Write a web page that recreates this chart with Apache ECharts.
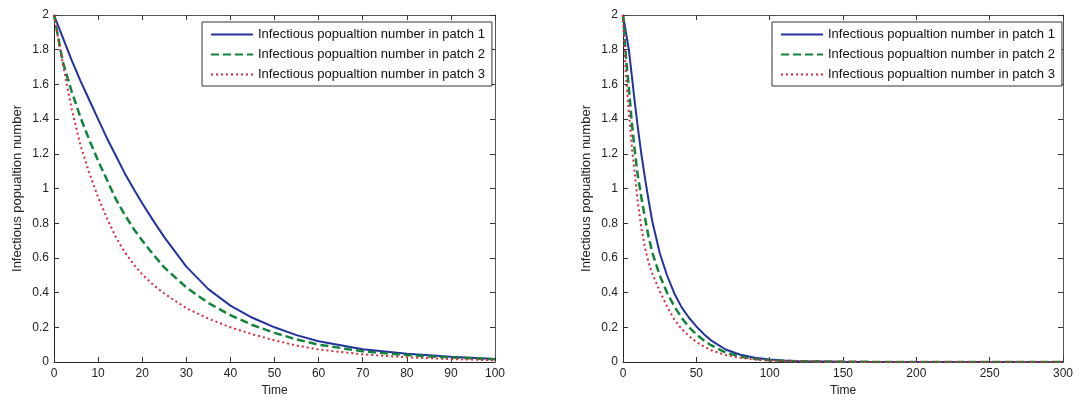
<!DOCTYPE html>
<html>
<head>
<meta charset="utf-8">
<script src="https://cdn.jsdelivr.net/npm/echarts@6.0.0/dist/echarts.min.js"></script>
<style>
  html, body { margin: 0; padding: 0; background: #fff; }
  #main { width: 1081px; height: 402px; }
</style>
</head>
<body>
<div id="main"></div>
<script>
/* two panels: infectious population per patch over time */

var seriesNames = [
    'Infectious popualtion number in patch 1',
    'Infectious popualtion number in patch 2',
    'Infectious popualtion number in patch 3'
];

// left panel, time 0..100
var timeLeft = [0, 2, 4, 6, 8, 10, 12, 14, 16, 18, 20, 22.5, 25, 30, 35, 40, 45, 50, 55, 60, 70, 80, 90, 100];
var patch1Left = [2.0, 1.87, 1.74, 1.62, 1.51, 1.40, 1.29, 1.19, 1.09, 1.00, 0.915, 0.815, 0.72, 0.55, 0.42, 0.325, 0.255, 0.2, 0.155, 0.12, 0.074, 0.047, 0.03, 0.018];
var patch2Left = [2.0, 1.73, 1.56, 1.41, 1.28, 1.16, 1.05, 0.94, 0.85, 0.77, 0.70, 0.62, 0.545, 0.43, 0.34, 0.27, 0.213, 0.168, 0.13, 0.10, 0.062, 0.04, 0.026, 0.016];
var patch3Left = [2.0, 1.72, 1.46, 1.25, 1.09, 0.95, 0.83, 0.72, 0.635, 0.565, 0.505, 0.445, 0.395, 0.31, 0.25, 0.2, 0.16, 0.125, 0.095, 0.072, 0.044, 0.027, 0.017, 0.01];

// right panel, time 0..300
var timeRight = [0, 2, 4, 6, 8, 10, 12.5, 15, 17.5, 20, 25, 30, 35, 40, 45, 50, 55, 60, 70, 80, 90, 100, 110, 120, 150, 200, 250, 300];
var patch1Right = [2.0, 1.9, 1.8, 1.65, 1.5, 1.36, 1.2, 1.06, 0.93, 0.81, 0.63, 0.5, 0.395, 0.315, 0.255, 0.205, 0.162, 0.125, 0.072, 0.042, 0.025, 0.015, 0.009, 0.005, 0.002, 0.0005, 0.0001, 0];
var patch2Right = [2.0, 1.76, 1.58, 1.38, 1.22, 1.08, 0.95, 0.83, 0.72, 0.63, 0.5, 0.4, 0.32, 0.255, 0.2, 0.16, 0.125, 0.097, 0.055, 0.031, 0.018, 0.01, 0.006, 0.004, 0.001, 0.0002, 0, 0];
var patch3Right = [2.0, 1.65, 1.44, 1.24, 1.09, 0.93, 0.77, 0.66, 0.57, 0.51, 0.41, 0.32, 0.245, 0.19, 0.15, 0.115, 0.09, 0.068, 0.04, 0.024, 0.014, 0.008, 0.005, 0.003, 0.001, 0, 0, 0];

var FONT = "'Liberation Sans', Arial, sans-serif";
var lineStyles = [
    { color: '#2432a0', width: 2, type: 'solid' },
    { color: '#12843a', width: 2.5, type: [8, 4] },
    { color: '#d6283a', width: 2, type: [2, 3] }
];

function pairs(xs, ys) {
    var out = [];
    for (var i = 0; i < xs.length; i++) out.push([xs[i], ys[i]]);
    return out;
}

function xAxisPair(grid, max, interval) {
    var tick = { inside: true, length: 5, lineStyle: { color: '#333' } };
    return [
        {
            gridIndex: grid, type: 'value', position: 'bottom', min: 0, max: max, interval: interval,
            axisLine: { onZero: false, lineStyle: { color: '#222', width: 1 } },
            axisTick: tick,
            axisLabel: { color: '#222', fontSize: 12, fontFamily: FONT, margin: 6 },
            splitLine: { show: false },
            name: 'Time', nameLocation: 'middle', nameGap: 22,
            nameTextStyle: { color: '#222', fontSize: 12, fontFamily: FONT }
        },
        {
            gridIndex: grid, type: 'value', position: 'top', min: 0, max: max, interval: interval,
            axisLine: { onZero: false, lineStyle: { color: '#555', width: 1 } },
            axisTick: tick,
            axisLabel: { show: false },
            splitLine: { show: false }
        }
    ];
}

function yAxisPair(grid) {
    var tick = { inside: true, length: 5, lineStyle: { color: '#333' } };
    return [
        {
            gridIndex: grid, type: 'value', position: 'left', min: 0, max: 2, interval: 0.2,
            axisLine: { show: true, onZero: false, lineStyle: { color: '#222', width: 1 } },
            axisTick: { show: true, inside: true, length: 5, lineStyle: { color: '#333' } },
            axisLabel: { color: '#222', fontSize: 12, fontFamily: FONT, margin: 5 },
            splitLine: { show: false },
            name: 'Infectious popualtion number', nameLocation: 'middle', nameGap: 30,
            nameTextStyle: { color: '#222', fontSize: 13, fontFamily: FONT }
        },
        {
            gridIndex: grid, type: 'value', position: 'right', min: 0, max: 2, interval: 0.2,
            axisLine: { show: true, onZero: false, lineStyle: { color: '#555', width: 1 } },
            axisTick: tick,
            axisLabel: { show: false },
            splitLine: { show: false }
        }
    ];
}

function panelSeries(grid, xs, ys1, ys2, ys3) {
    var data = [ys1, ys2, ys3];
    var out = [];
    for (var k = 0; k < 3; k++) {
        out.push({
            name: seriesNames[k],
            type: 'line',
            xAxisIndex: grid * 2,
            yAxisIndex: grid * 2,
            data: pairs(xs, data[k]),
            showSymbol: false,
            symbol: 'none',
            smooth: false,
            lineStyle: lineStyles[k],
            itemStyle: { color: lineStyles[k].color }
        });
    }
    return out;
}

function legendAt(left) {
    return {
        data: seriesNames,
        orient: 'vertical',
        left: left, top: 22,
        backgroundColor: '#fff',
        borderColor: '#333', borderWidth: 1, borderRadius: 0,
        padding: [6, 7, 5, 8],
        itemWidth: 42, itemHeight: 12, itemGap: 7,
        selectedMode: false,
        itemStyle: { opacity: 0 },   // hide the circle, keep the line sample
        textStyle: { color: '#111', fontSize: 13, fontFamily: FONT }
    };
}

var chart = echarts.init(document.getElementById('main'), null, { renderer: 'canvas' });
var option = {
    backgroundColor: '#fff',
    animation: false,
    grid: [
        { left: 54, top: 15, width: 441, height: 347 },
        { left: 623, top: 15, width: 440, height: 347 }
    ],
    xAxis: xAxisPair(0, 100, 10).concat(xAxisPair(1, 300, 50)),
    yAxis: yAxisPair(0).concat(yAxisPair(1)),
    legend: [legendAt(202), legendAt(772)],
    series: panelSeries(0, timeLeft, patch1Left, patch2Left, patch3Left)
        .concat(panelSeries(1, timeRight, patch1Right, patch2Right, patch3Right))
};
chart.setOption(option);
</script>
</body>
</html>
